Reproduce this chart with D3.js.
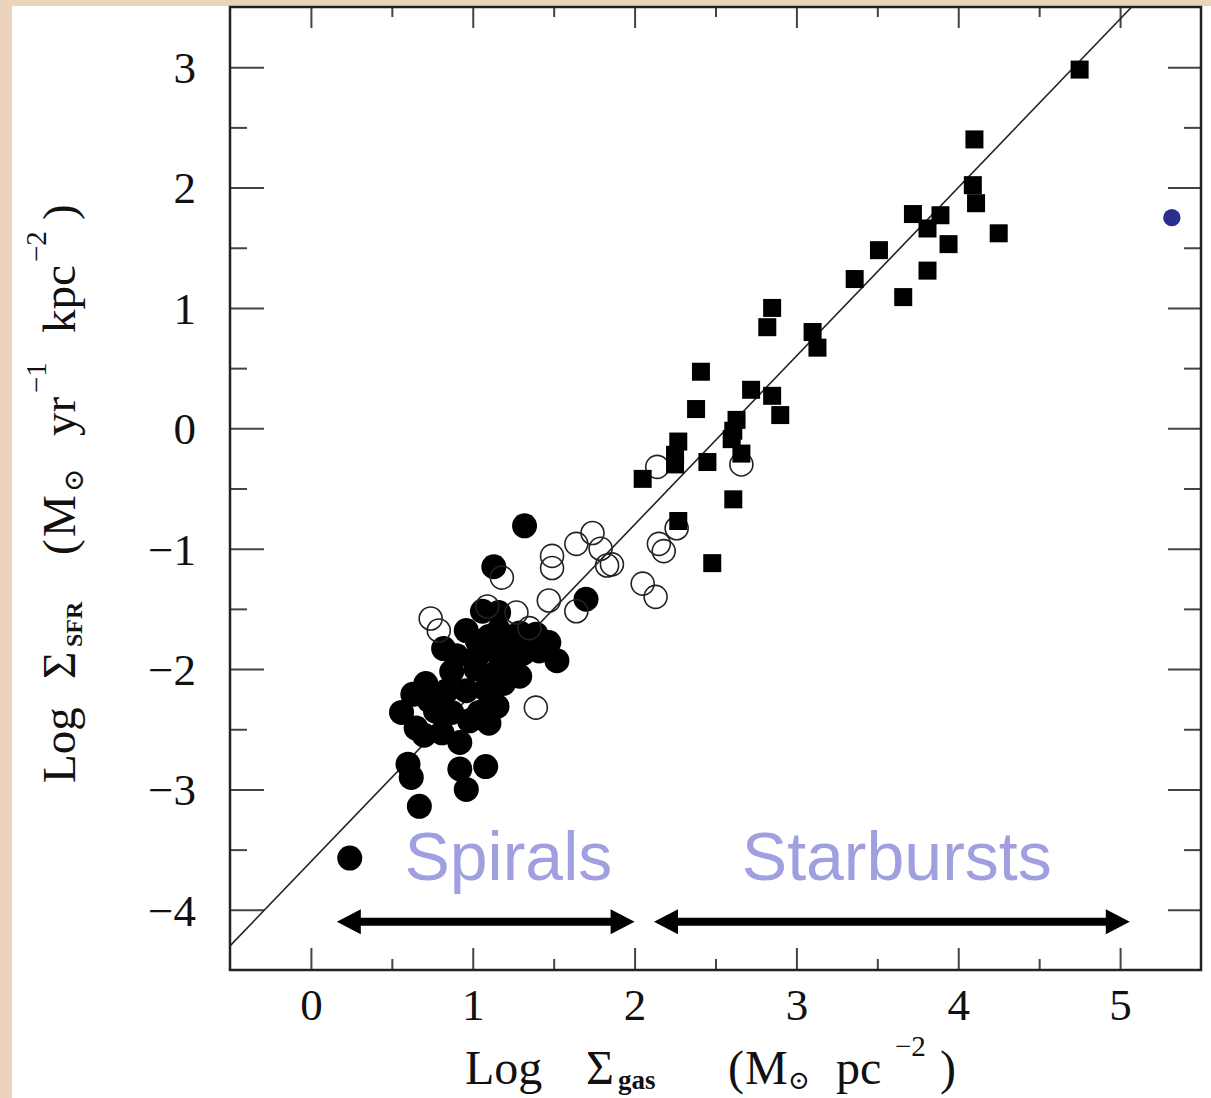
<!DOCTYPE html>
<html>
<head>
<meta charset="utf-8">
<script src="https://cdn.jsdelivr.net/npm/d3@7"></script>
<style>
  body { margin: 0; background: #fff; }
  svg { display: block; }
</style>
</head>
<body>
<div id="chart"></div>
<script>
// Kennicutt-Schmidt law: log gas surface density vs log SFR surface density
// spirals (filled circles), spiral centres (open circles), starbursts (squares)
const filledCircles = [
  [0.24, -3.57], [1.32, -0.81], [1.13, -1.15], [1.70, -1.42],
  [0.67, -3.14], [0.60, -2.79], [0.62, -2.90], [0.92, -2.83], [0.96, -3.00], [1.08, -2.81],
  [0.56, -2.36], [0.63, -2.21], [0.71, -2.12], [0.65, -2.49], [0.77, -2.35], [0.81, -2.53],
  [0.92, -2.61], [0.87, -2.36], [1.04, -2.36], [1.15, -2.31],
  [0.84, -2.18], [0.96, -2.18], [1.08, -2.17], [1.19, -2.12],
  [0.87, -2.02], [1.02, -2.00], [1.15, -2.02], [1.24, -1.97],
  [0.90, -1.89], [1.03, -1.89], [1.16, -1.87], [1.31, -1.87],
  [0.96, -1.68], [1.10, -1.73], [1.23, -1.75], [1.39, -1.71], [1.47, -1.78], [1.52, -1.93],
  [1.06, -1.52], [1.16, -1.53], [1.29, -1.70],
  [0.98, -2.43], [1.10, -2.45], [0.73, -2.26], [0.82, -1.83], [1.29, -2.06],
  [1.03, -1.77], [1.16, -1.68], [1.41, -1.85], [0.70, -2.55]
];
const openCircles = [
  [0.74, -1.58], [0.79, -1.68], [1.09, -1.48], [1.18, -1.24], [1.27, -1.53], [1.35, -1.66],
  [1.39, -2.32], [1.47, -1.43], [1.49, -1.06], [1.49, -1.16], [1.64, -0.96], [1.64, -1.52],
  [1.74, -0.87], [1.79, -1.00], [1.83, -1.14], [1.86, -1.13], [2.05, -1.29], [2.13, -1.40],
  [2.15, -0.96], [2.18, -1.02], [2.26, -0.83], [2.14, -0.32], [2.66, -0.30]
];
const starbursts = [
  [2.85, 1.00], [2.82, 0.84], [3.10, 0.80], [3.13, 0.67], [2.41, 0.47], [2.38, 0.16],
  [2.72, 0.32], [2.85, 0.27], [2.90, 0.11], [2.63, 0.07], [2.61, -0.02], [2.60, -0.09],
  [2.66, -0.21], [2.27, -0.11], [2.25, -0.22], [2.25, -0.30], [2.45, -0.28], [2.05, -0.42],
  [2.61, -0.59], [2.27, -0.77], [2.48, -1.12],
  [3.72, 1.78], [3.89, 1.77], [3.81, 1.66], [4.09, 2.02], [4.11, 1.87], [4.25, 1.62],
  [3.94, 1.53], [3.51, 1.48], [3.81, 1.31], [3.66, 1.09], [3.36, 1.24],
  [4.75, 2.98], [4.10, 2.40]
];
const strayDot = [[5.32, 1.75]];

// fit: log SFR = 1.4 log gas - 3.6
const fitSlope = 1.4;
const fitIntercept = -3.6;

const xMajor = [0, 1, 2, 3, 4, 5];
const xMinor = [0.5, 1.5, 2.5, 3.5, 4.5];
const yMajor = [-4, -3, -2, -1, 0, 1, 2, 3];
const yMinor = [-3.5, -2.5, -1.5, -0.5, 0.5, 1.5, 2.5];

// annotations: label, arrow start, arrow end (data x)
const regions = [
  { label: "Spirals", from: 0.16, to: 2.0, labelX: 1.22 },
  { label: "Starbursts", from: 2.12, to: 5.06, labelX: 3.62 }
];
const arrowY = -4.1;
const labelY = -3.75;

const width = 1211, height = 1098;
const plot = { left: 230, right: 1201, top: 7, bottom: 970 };

const svg = d3.select("#chart").append("svg")
  .attr("width", width)
  .attr("height", height);

svg.append("rect").attr("width", width).attr("height", height).attr("fill", "#fff");
// slide background strips
svg.append("rect").attr("x", 0).attr("y", 0).attr("width", 12).attr("height", height).attr("fill", "#ebd3bd");
svg.append("rect").attr("x", 0).attr("y", 0).attr("width", width).attr("height", 6).attr("fill", "#ebd3bd");

const x = d3.scaleLinear().domain([-0.5, 5.5]).range([plot.left, plot.right]);
const y = d3.scaleLinear().domain([-4.5, 3.5]).range([plot.bottom, plot.top]);

const serif = "'Liberation Serif', 'DejaVu Serif', serif";
const fmt = d => d < 0 ? "\u2212" + Math.abs(d) : String(d);

function styleAxis(g) {
  g.select(".domain").remove();
  g.selectAll(".tick line").attr("stroke", "#444").attr("stroke-width", 2);
  g.selectAll("text").attr("font-family", serif).attr("font-size", 45).attr("fill", "#111");
}

// bottom
svg.append("g").attr("transform", `translate(0,${plot.bottom})`)
  .call(d3.axisBottom(x).tickValues(xMajor).tickSizeInner(-22).tickSizeOuter(0).tickFormat(fmt))
  .call(styleAxis)
  .call(g => g.selectAll("text").attr("y", 50).attr("dy", null));
svg.append("g").attr("transform", `translate(0,${plot.bottom})`)
  .call(d3.axisBottom(x).tickValues(xMinor).tickSizeInner(-11).tickSizeOuter(0).tickFormat(""))
  .call(styleAxis);
// top
svg.append("g").attr("transform", `translate(0,${plot.top})`)
  .call(d3.axisTop(x).tickValues(xMajor).tickSizeInner(-21).tickSizeOuter(0).tickFormat(""))
  .call(styleAxis);
svg.append("g").attr("transform", `translate(0,${plot.top})`)
  .call(d3.axisTop(x).tickValues(xMinor).tickSizeInner(-10).tickSizeOuter(0).tickFormat(""))
  .call(styleAxis);
// left
svg.append("g").attr("transform", `translate(${plot.left},0)`)
  .call(d3.axisLeft(y).tickValues(yMajor).tickSizeInner(-34).tickSizeOuter(0).tickPadding(34).tickFormat(fmt))
  .call(styleAxis)
  .call(g => g.selectAll("text").attr("dy", "0.34em"));
svg.append("g").attr("transform", `translate(${plot.left},0)`)
  .call(d3.axisLeft(y).tickValues(yMinor).tickSizeInner(-17).tickSizeOuter(0).tickFormat(""))
  .call(styleAxis);
// right
svg.append("g").attr("transform", `translate(${plot.right},0)`)
  .call(d3.axisRight(y).tickValues(yMajor).tickSizeInner(-33).tickSizeOuter(0).tickFormat(""))
  .call(styleAxis);
svg.append("g").attr("transform", `translate(${plot.right},0)`)
  .call(d3.axisRight(y).tickValues(yMinor).tickSizeInner(-17).tickSizeOuter(0).tickFormat(""))
  .call(styleAxis);

// frame
svg.append("rect")
  .attr("x", plot.left).attr("y", plot.top)
  .attr("width", plot.right - plot.left).attr("height", plot.bottom - plot.top)
  .attr("fill", "none").attr("stroke", "#222").attr("stroke-width", 2.5);

// fit line, clipped to the box
const xEnd = (3.5 - fitIntercept) / fitSlope;
svg.append("line")
  .attr("x1", x(-0.5)).attr("y1", y(fitSlope * -0.5 + fitIntercept))
  .attr("x2", x(xEnd)).attr("y2", y(3.5))
  .attr("stroke", "#222").attr("stroke-width", 1.6);

// points
svg.append("g").selectAll("circle").data(filledCircles).join("circle")
  .attr("cx", d => x(d[0])).attr("cy", d => y(d[1])).attr("r", 12.5)
  .attr("fill", "#000");
svg.append("g").selectAll("circle").data(openCircles).join("circle")
  .attr("cx", d => x(d[0])).attr("cy", d => y(d[1])).attr("r", 11.5)
  .attr("fill", "none").attr("stroke", "#222").attr("stroke-width", 1.6);
const sq = 18;
svg.append("g").selectAll("rect").data(starbursts).join("rect")
  .attr("x", d => x(d[0]) - sq / 2).attr("y", d => y(d[1]) - sq / 2)
  .attr("width", sq).attr("height", sq).attr("fill", "#000");
svg.append("g").selectAll("circle").data(strayDot).join("circle")
  .attr("cx", d => x(d[0])).attr("cy", d => y(d[1])).attr("r", 8.7)
  .attr("fill", "#2b2e8e");

// region arrows + labels
const headLen = 24, headHalf = 12.5, shaft = 8;
function doubleArrow(x1, x2, yy) {
  return `M${x1},${yy} L${x1 + headLen},${yy - headHalf} L${x1 + headLen},${yy - shaft / 2}
    L${x2 - headLen},${yy - shaft / 2} L${x2 - headLen},${yy - headHalf} L${x2},${yy}
    L${x2 - headLen},${yy + headHalf} L${x2 - headLen},${yy + shaft / 2}
    L${x1 + headLen},${yy + shaft / 2} L${x1 + headLen},${yy + headHalf} Z`;
}
const reg = svg.append("g");
reg.selectAll("path").data(regions).join("path")
  .attr("d", d => doubleArrow(x(d.from), x(d.to), y(arrowY)))
  .attr("fill", "#000");
reg.selectAll("text").data(regions).join("text")
  .attr("x", d => x(d.labelX)).attr("y", y(labelY))
  .attr("text-anchor", "middle")
  .attr("font-family", "'Liberation Sans', Arial, sans-serif")
  .attr("font-size", 68)
  .attr("fill", "#a09fe0")
  .text(d => d.label);

// x axis title
const xt = svg.append("text")
  .attr("font-family", serif).attr("font-size", 48).attr("fill", "#111")
  .attr("y", 1084);
xt.append("tspan").attr("x", 465).text("Log");
xt.append("tspan").attr("x", 586).text("\u03A3");
xt.append("tspan").attr("x", 618).attr("y", 1089).attr("font-size", 27).attr("font-weight", "bold").text("gas");
xt.append("tspan").attr("x", 728).attr("y", 1084).text("(");
xt.append("tspan").attr("x", 745).text("M");
xt.append("tspan").attr("x", 788).attr("y", 1089).attr("font-size", 26).text("\u2299");
xt.append("tspan").attr("x", 836).attr("y", 1084).text("pc");
xt.append("tspan").attr("x", 895).attr("y", 1056).attr("font-size", 29).text("\u22122");
xt.append("tspan").attr("x", 940).attr("y", 1084).text(")");

// y axis title (rotated)
const yt = svg.append("text")
  .attr("transform", "translate(75,783) rotate(-90)")
  .attr("font-family", serif).attr("font-size", 47).attr("fill", "#111");
yt.append("tspan").attr("x", 0).attr("y", 0).text("Log");
yt.append("tspan").attr("x", 104).text("\u03A3");
yt.append("tspan").attr("x", 136).attr("y", 7).attr("font-size", 24).attr("font-weight", "bold").text("SFR");
yt.append("tspan").attr("x", 228).attr("y", 0).text("(");
yt.append("tspan").attr("x", 246).text("M");
yt.append("tspan").attr("x", 291).attr("y", 8).attr("font-size", 28).text("\u2299");
yt.append("tspan").attr("x", 347).attr("y", 0).text("yr");
yt.append("tspan").attr("x", 390).attr("y", -29).attr("font-size", 29).text("\u22121");
yt.append("tspan").attr("x", 450).attr("y", 0).text("kpc");
yt.append("tspan").attr("x", 521).attr("y", -29).attr("font-size", 29).text("\u22122");
yt.append("tspan").attr("x", 563).attr("y", 0).text(")");
</script>
</body>
</html>
